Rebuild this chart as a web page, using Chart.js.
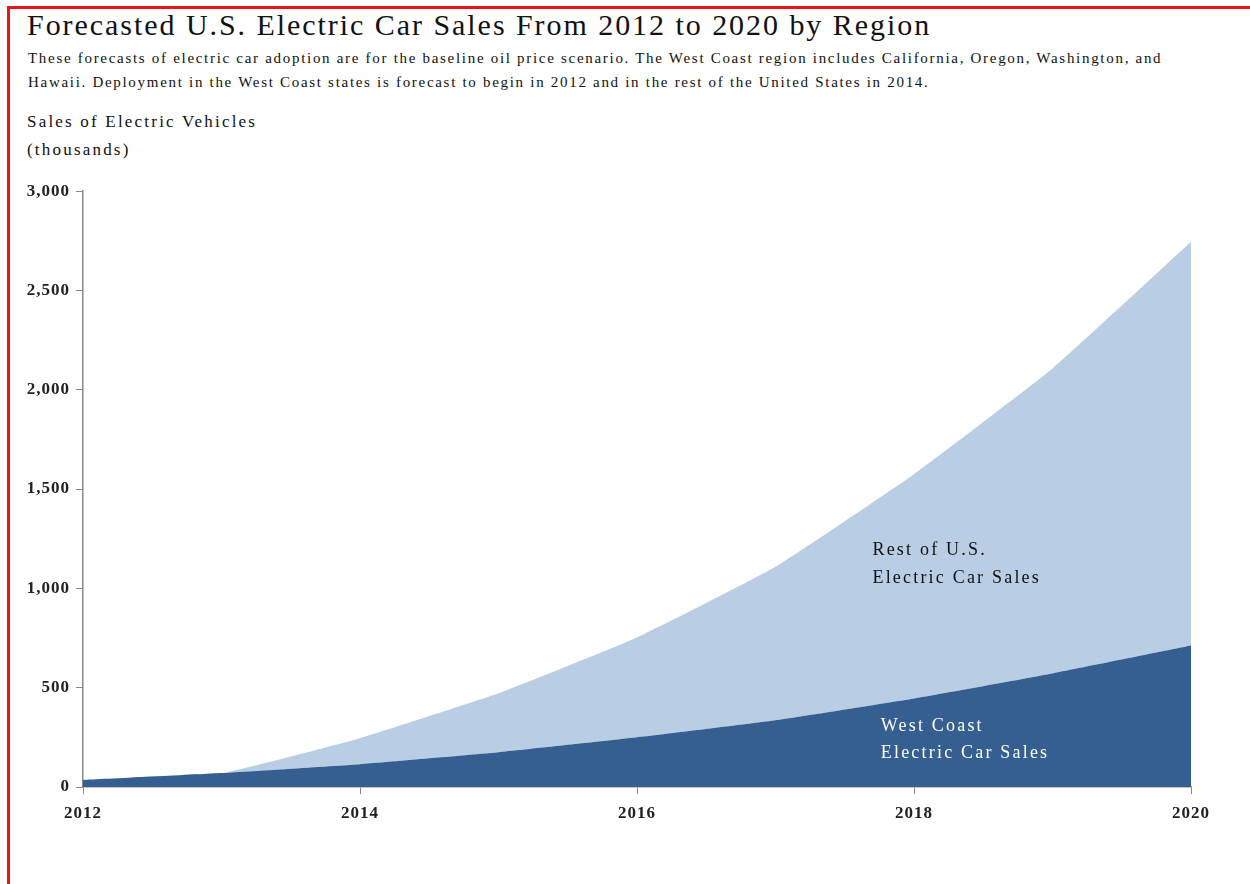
<!DOCTYPE html>
<html>
<head>
<meta charset="utf-8">
<script src="https://cdn.jsdelivr.net/npm/chart.js@4.4.0/dist/chart.umd.min.js"></script>
<style>
  body { margin: 0; background: #fff; width: 1250px; height: 884px; overflow: hidden; position: relative; font-family: "Liberation Serif", serif; color: #111; }
  .frame { position: absolute; left: 7px; top: 6px; width: 1260px; height: 900px; border-top: 3px solid #e8141a; border-left: 3px solid #e8141a; }
  .title { position: absolute; left: 27px; top: 8px; font-size: 30px; white-space: nowrap; letter-spacing: 1.95px; }
  .sub { position: absolute; left: 28px; top: 46px; font-size: 15px; line-height: 24px; white-space: nowrap; letter-spacing: 1.7px; }
  .ytitle { position: absolute; left: 27px; top: 108px; font-size: 17px; line-height: 28px; white-space: nowrap; letter-spacing: 2.2px; }
  #wrap { position: absolute; left: 0; top: 175px; width: 1250px; height: 665px; }
</style>
</head>
<body>
<div class="frame"></div>
<div class="title">Forecasted U.S. Electric Car Sales From 2012 to 2020 by Region</div>
<div class="sub">These forecasts of electric car adoption are for the baseline oil price scenario. The West Coast region includes California, Oregon, Washington, and<br>Hawaii. Deployment in the West Coast states is forecast to begin in 2012 and in the rest of the United States in 2014.</div>
<div class="ytitle">Sales of Electric Vehicles<br>(thousands)</div>
<div id="wrap"><canvas id="myChart"></canvas></div>
<script>
// data (thousands of vehicles)
var years = [2012, 2013, 2014, 2015, 2016, 2017, 2018, 2019, 2020];
var westCoast = [35, 70, 115, 175, 250, 336, 446, 572, 712];
var restOfUS = [0, 0, 131, 297, 503, 773, 1129, 1535, 2033];
var yTicks = [0, 500, 1000, 1500, 2000, 2500, 3000];
var xTicks = [2012, 2014, 2016, 2018, 2020];

// area labels, placed in data units
var areaLabels = [
  { lines: ['Rest of U.S.', 'Electric Car Sales'], x: 2017.7, y: 1190, step: 140, color: '#111' },
  { lines: ['West Coast', 'Electric Car Sales'], x: 2017.76, y: 306, step: 136, color: '#fff' }
];

function points(vals) {
  return years.map(function (yr, i) { return { x: yr, y: vals[i] }; });
}

var labelPlugin = {
  id: 'areaLabels',
  beforeDraw: function (chart) {
    chart.ctx.letterSpacing = '1px';
  },
  afterDatasetsDraw: function (chart) {
    var ctx = chart.ctx;
    var xs = chart.scales.x, ys = chart.scales.y;
    ctx.save();
    ctx.font = '18px "Liberation Serif"';
    ctx.letterSpacing = '2.2px';
    ctx.textBaseline = 'middle';
    ctx.textAlign = 'left';
    areaLabels.forEach(function (l) {
      ctx.fillStyle = l.color;
      l.lines.forEach(function (t, i) {
        ctx.fillText(t, xs.getPixelForValue(l.x), ys.getPixelForValue(l.y - i * l.step));
      });
    });
    ctx.restore();
  }
};

var tickFont = { family: 'Liberation Serif', size: 17, weight: 'bold' };

var ctx = document.getElementById('myChart').getContext('2d');
var chart = new Chart(ctx, {
  type: 'line',
  data: {
    datasets: [{
      label: 'West Coast Electric Car Sales',
      data: points(westCoast),
      backgroundColor: '#365f91',
      borderWidth: 0,
      pointRadius: 0,
      fill: 'origin'
    }, {
      label: 'Rest of U.S. Electric Car Sales',
      data: points(restOfUS),
      backgroundColor: '#b9cde4',
      borderWidth: 0,
      pointRadius: 0,
      fill: '-1'
    }]
  },
  options: {
    responsive: true,
    maintainAspectRatio: false,
    animation: false,
    elements: { line: { tension: 0.12 } },
    layout: { padding: { left: 0, right: 59, top: 14, bottom: 0 } },
    plugins: { legend: { display: false }, tooltip: { enabled: false } },
    scales: {
      x: {
        type: 'linear',
        min: 2012,
        max: 2020,
        afterBuildTicks: function (s) { s.ticks = xTicks.map(function (v) { return { value: v }; }); },
        afterFit: function (s) { s.height = 53; },
        ticks: { color: '#222', font: tickFont, padding: 9, maxRotation: 0, callback: function (v) { return String(v); } },
        grid: { display: true, drawOnChartArea: false, drawTicks: true, tickLength: 7, color: '#888' },
        border: { display: true, color: '#888', width: 1.5 }
      },
      y: {
        stacked: true,
        min: 0,
        max: 3000,
        afterBuildTicks: function (s) { s.ticks = yTicks.map(function (v) { return { value: v }; }); },
        afterFit: function (s) { s.width = 83; },
        ticks: { color: '#222', font: tickFont, padding: 6, callback: function (v) { return v.toLocaleString('en-US'); } },
        grid: { display: true, drawOnChartArea: false, drawTicks: true, tickLength: 7, color: '#888' },
        border: { display: true, color: '#888', width: 1.5 }
      }
    }
  },
  plugins: [labelPlugin]
});
</script>
</body>
</html>
